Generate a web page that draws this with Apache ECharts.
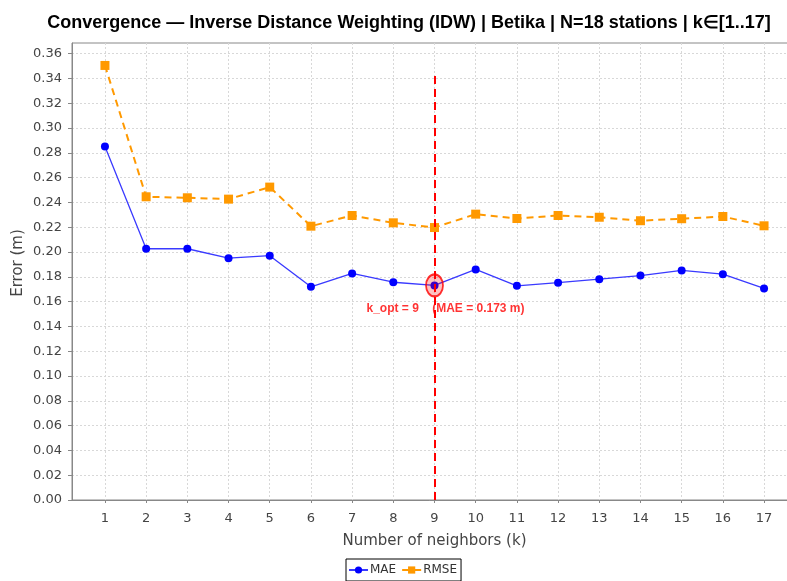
<!DOCTYPE html>
<html>
<head>
<meta charset="utf-8">
<script src="https://cdn.jsdelivr.net/npm/echarts@6/dist/echarts.min.js"></script>
<style>
  html, body { margin: 0; padding: 0; background: #ffffff; }
  #chart { width: 787px; height: 581px; }
</style>
</head>
<body>
<div id="chart"></div>
<script>
// Number of neighbours k tested for IDW
const kValues = [1, 2, 3, 4, 5, 6, 7, 8, 9, 10, 11, 12, 13, 14, 15, 16, 17];
// Leave-one-out errors (metres) for each k
const maeValues = [0.285, 0.2026, 0.2026, 0.195, 0.197, 0.1719, 0.1827, 0.1756, 0.173, 0.1859, 0.1727, 0.1752, 0.1781, 0.181, 0.1851, 0.1821, 0.1706];
const rmseValues = [0.3504, 0.2445, 0.2437, 0.2426, 0.2523, 0.2208, 0.2294, 0.2235, 0.2197, 0.2305, 0.227, 0.2294, 0.228, 0.2252, 0.2268, 0.2286, 0.2211];
// Y tick labels
const yTicks = [0, 0.02, 0.04, 0.06, 0.08, 0.10, 0.12, 0.14, 0.16, 0.18, 0.20, 0.22, 0.24, 0.26, 0.28, 0.30, 0.32, 0.34, 0.36];
// Selected k and the height of its marker line
const kOpt = 9;
const markerTop = 0.342;

const titleText = 'Convergence \u2014 Inverse Distance Weighting (IDW) | Betika | N=18 stations | k\u2208[1..17]';
const maeOpt = maeValues[kValues.indexOf(kOpt)];

const chart = echarts.init(document.getElementById('chart'), null, { renderer: 'canvas' });

const tickFont = { fontFamily: 'DejaVu Sans', fontSize: 13, color: '#444444' };
const nameFont = { fontFamily: 'DejaVu Sans', fontSize: 15, color: '#444444' };

chart.setOption({
  backgroundColor: '#ffffff',
  animation: false,
  title: {
    text: titleText,
    left: 404,
    top: 9,
    textAlign: 'center',
    textStyle: { fontFamily: 'Liberation Sans', fontWeight: 'bold', fontSize: 18, color: '#000000' }
  },
  legend: {
    left: 346,
    top: 559,
    padding: [5, 4, 5, 2],
    itemGap: 5,
    itemWidth: 19,
    itemHeight: 9,
    borderColor: '#000000',
    borderWidth: 1,
    textStyle: { fontFamily: 'DejaVu Sans', fontSize: 12, color: '#333333', padding: [0, 0, 0, -3] },
    data: ['MAE', 'RMSE']
  },
  grid: {
    left: 72,
    right: -10,
    top: 43,
    bottom: 81,
    show: true,
    backgroundColor: '#ffffff',
    borderColor: '#888888',
    borderWidth: 1,
    outerBoundsMode: 'none',
    containLabel: false
  },
  graphic: [
    {
      type: 'text',
      x: 18,
      y: 263,
      rotation: Math.PI / 2,
      style: Object.assign({ text: 'Error (m)', align: 'center', verticalAlign: 'middle', fill: '#444444',
        font: '15px "DejaVu Sans"' })
    }
  ],
  xAxis: {
    type: 'value',
    min: 0.2,
    max: 17.8,
    offset: 2,
    name: 'Number of neighbors (k)',
    nameLocation: 'middle',
    nameGap: 32,
    nameTextStyle: nameFont,
    axisLine: { show: true, lineStyle: { color: '#888888', width: 1 } },
    axisTick: { show: true, length: 3, lineStyle: { color: '#888888' }, customValues: kValues },
    axisLabel: Object.assign({ margin: 10, customValues: kValues, formatter: v => String(v) }, tickFont),
    splitLine: { show: true, lineStyle: { color: '#d8d8d8', type: [2, 2], width: 1 } }
  },
  yAxis: {
    type: 'value',
    min: 0,
    max: 0.3685,
    axisLine: { show: true, lineStyle: { color: '#888888', width: 1 } },
    axisTick: { show: true, length: 4, lineStyle: { color: '#888888' }, customValues: yTicks },
    axisLabel: Object.assign({ margin: 10, customValues: yTicks, formatter: v => v.toFixed(2) }, tickFont),
    splitLine: { show: true, lineStyle: { color: '#d8d8d8', type: [2, 2], width: 1 } }
  },
  series: [
    {
      name: 'MAE',
      type: 'line',
      data: kValues.map((k, i) => [k, maeValues[i]]),
      symbol: 'circle',
      symbolSize: 8,
      itemStyle: { color: '#0000ff' },
      lineStyle: { color: '#3a3aff', width: 1.3 },
      z: 3,
      markLine: {
        silent: true,
        symbol: ['none', 'none'],
        label: { show: false },
        lineStyle: { color: '#ff0000', width: 2, type: [8, 5] },
        data: [[{ coord: [kOpt, 0] }, { coord: [kOpt, markerTop] }]]
      }
    },
    {
      name: 'RMSE',
      type: 'line',
      data: kValues.map((k, i) => [k, rmseValues[i]]),
      symbol: 'rect',
      symbolSize: 9,
      itemStyle: { color: '#ff9900' },
      lineStyle: { color: '#ff9900', width: 2, type: [7, 5] },
      z: 2
    },
    {
      name: 'k_opt',
      type: 'scatter',
      data: [[kOpt, maeOpt]],
      symbol: 'circle',
      symbolSize: [17, 22],
      itemStyle: { color: 'rgba(255,0,0,0.3)', borderColor: '#ff0000', borderWidth: 2 },
      z: 5,
      label: {
        show: true,
        position: 'bottom',
        distance: 5,
        offset: [11, 0],
        formatter: () => 'k_opt = ' + kOpt + '    (MAE = ' + maeOpt.toFixed(3) + ' m)',
        fontFamily: 'Liberation Sans',
        fontWeight: 'bold',
        fontSize: 12,
        color: '#ff0000'
      }
    }
  ]
});
</script>
</body>
</html>
